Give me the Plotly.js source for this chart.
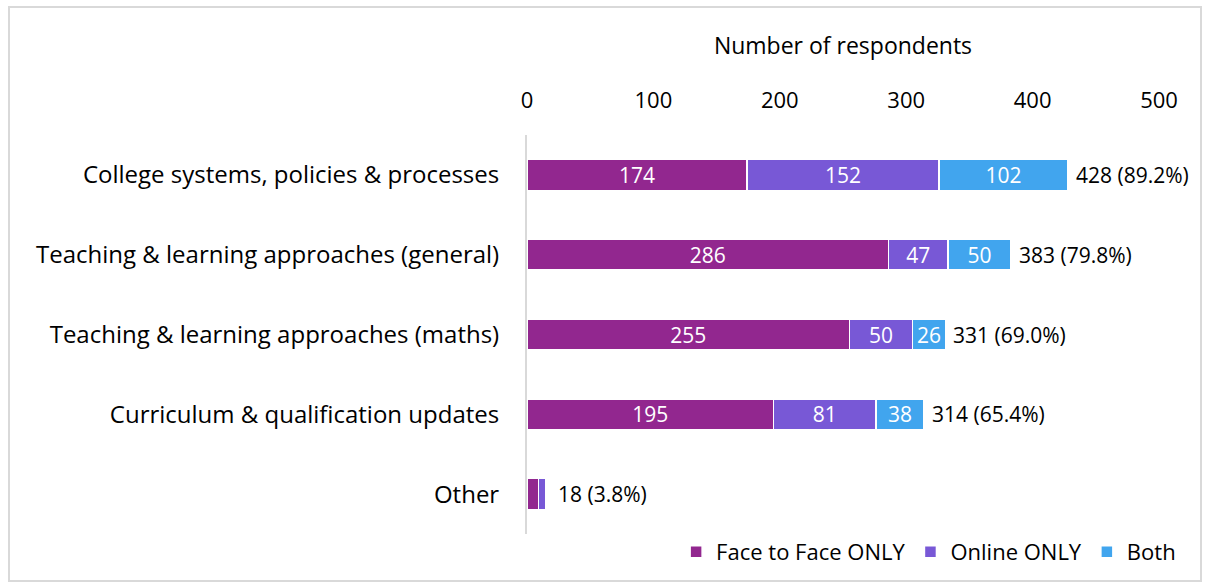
<!DOCTYPE html>
<html>
<head>
<meta charset="utf-8">
<script src="https://cdn.plot.ly/plotly-3.0.1.min.js"></script>
<style>
  html, body { margin: 0; padding: 0; background: #fff; }
  #wrap { position: relative; width: 1206px; height: 585px; }
  #chart { width: 1206px; height: 585px; }
  #frame { position: absolute; left: 8px; top: 6px; width: 1190px; height: 572px;
           border: 2px solid #d9d9d9; pointer-events: none; }
</style>
</head>
<body>
<div id="wrap">
  <div id="chart"></div>
  <div id="frame"></div>
</div>
<script>
const categories = [
  "College systems, policies & processes",
  "Teaching & learning approaches (general)",
  "Teaching & learning approaches (maths)",
  "Curriculum & qualification updates",
  "Other"
];
const faceToFace = [174, 286, 255, 195, 9];
const onlineOnly = [152, 47, 50, 81, 6];
const both = [102, 50, 26, 38, 0];
const totals = [428, 383, 331, 314, 18];
const percents = ["89.2%", "79.8%", "69.0%", "65.4%", "3.8%"];
const showInner = [true, true, true, true, false];
const seriesNames = ["Face to Face ONLY", "Online ONLY", "Both"];
const colors = ["#92278F", "#7858D6", "#41A5EE"];

const FONT = "'Open Sans', Lato, sans-serif";
const seriesValues = [faceToFace, onlineOnly, both];

const traces = seriesValues.map((vals, i) => ({
  type: "bar",
  orientation: "h",
  name: seriesNames[i],
  x: vals,
  y: categories,
  text: vals.map((v, j) => showInner[j] ? String(v) : ""),
  textposition: "inside",
  insidetextanchor: "middle",
  textangle: 0,
  constraintext: "none",
  textfont: { color: "#ffffff", size: 21, family: FONT },
  marker: { color: colors[i], line: { color: "#ffffff", width: 1.5 } },
  hoverinfo: "x+y+name"
}));

const annotations = categories.map((c, j) => ({
  x: totals[j],
  y: c,
  xref: "x",
  yref: "y",
  text: totals[j] + " (" + percents[j] + ")",
  showarrow: false,
  xanchor: "left",
  xshift: 6,
  font: { size: 21, color: "#000000", family: FONT }
}));

const layout = {
  width: 1206,
  height: 585,
  barmode: "stack",
  bargap: 0.615,
  margin: { l: 527, r: 47, t: 135, b: 48 },
  paper_bgcolor: "#ffffff",
  plot_bgcolor: "#ffffff",
  font: { family: FONT, color: "#000000", size: 22 },
  showlegend: true,
  legend: {
    orientation: "h",
    x: 1.035,
    xanchor: "right",
    y: -0.045,
    yanchor: "middle",
    font: { size: 22, family: FONT, color: "#000000" },
    traceorder: "normal",
    itemwidth: 30
  },
  xaxis: {
    side: "top",
    range: [0, 500],
    tickvals: [0, 100, 200, 300, 400, 500],
    showgrid: false,
    zeroline: false,
    showline: false,
    ticks: "",
    ticklabelstandoff: 22,
    tickfont: { size: 22, family: FONT, color: "#000000" },
    title: { text: "Number of respondents", font: { size: 23, family: FONT, color: "#000000" }, standoff: 22 }
  },
  yaxis: {
    autorange: "reversed",
    showgrid: false,
    zeroline: false,
    showline: true,
    linecolor: "#d9d9d9",
    linewidth: 2,
    ticks: "",
    ticklabelstandoff: 21,
    tickfont: { size: 24, family: FONT, color: "#000000" }
  },
  annotations: annotations
};

Plotly.newPlot("chart", traces, layout, { displayModeBar: false, staticPlot: true });
</script>
</body>
</html>
